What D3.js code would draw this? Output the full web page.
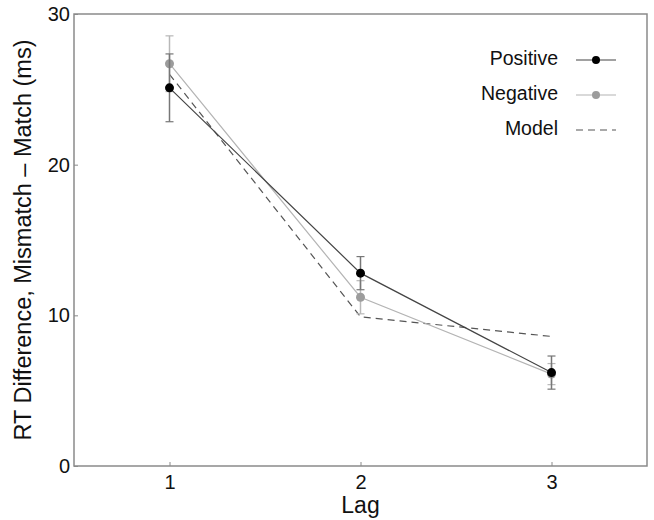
<!DOCTYPE html>
<html><head><meta charset="utf-8">
<script src="https://cdn.jsdelivr.net/npm/d3@7"></script>
<style>body{margin:0;background:#fff}svg{display:block}text{font-family:Arial,"Liberation Sans",sans-serif}</style>
</head><body><svg id="c" width="654" height="520"></svg>
<script>
const lags = [1, 2, 3];
const positive = [25.1, 12.8, 6.2];
const positiveErr = [2.25, 1.1, 1.1];
const negative = [26.7, 11.2, 6.1];
const negativeErr = [1.85, 1.1, 0.7];
const model = [26.0, 9.9, 8.6];
const yTicks = [0, 10, 20, 30];
const xTicks = [1, 2, 3];

const svg = d3.select("#c");
const L = 74, R = 647, T = 14, B = 466;
const x = d3.scaleLinear().domain([0.5, 3.5]).range([L, R]);
const y = d3.scaleLinear().domain([0, 30]).range([B, T]);
const axisCol = "#8a8a8a";

// frame
svg.append("rect").attr("x", L).attr("y", T).attr("width", R - L).attr("height", B - T)
  .attr("fill", "none").attr("stroke", axisCol).attr("stroke-width", 1.5);

const xa = svg.append("g").attr("transform", `translate(0,${B})`)
  .call(d3.axisBottom(x).tickValues(xTicks).tickSizeInner(-4).tickSizeOuter(0).tickPadding(9).tickFormat(d3.format("d")));
const ya = svg.append("g").attr("transform", `translate(${L},0)`)
  .call(d3.axisLeft(y).tickValues(yTicks).tickSizeInner(-4).tickSizeOuter(0).tickPadding(4));
[xa, ya].forEach(a => {
  a.select(".domain").remove();
  a.selectAll(".tick line").attr("stroke", axisCol).attr("stroke-width", 1);
  a.selectAll("text").attr("font-size", 20).attr("fill", "#111").attr("font-family", "Arial, 'Liberation Sans', sans-serif");
});

svg.append("text").attr("x", x(2)).attr("y", 513).attr("text-anchor", "middle")
  .attr("font-size", 23).attr("fill", "#111").text("Lag");
svg.append("text").attr("transform", `translate(25,${(T + B) / 2}) rotate(-90)`)
  .attr("text-anchor", "middle").attr("dominant-baseline", "middle")
  .attr("font-size", 23.5).attr("fill", "#111").text("RT Difference, Mismatch \u2013 Match (ms)");

const line = d3.line().x((d, i) => x(lags[i])).y(d => y(d));

// model
svg.append("path").datum(model).attr("d", line).attr("fill", "none")
  .attr("stroke", "#555").attr("stroke-width", 1.2).attr("stroke-dasharray", "7,5");

function series(vals, errs, lineCol, errCol, dotCol) {
  const g = svg.append("g");
  g.append("path").datum(vals).attr("d", line).attr("fill", "none")
    .attr("stroke", lineCol).attr("stroke-width", 1.2);
  vals.forEach((v, i) => {
    const cx = x(lags[i]);
    g.append("line").attr("x1", cx).attr("x2", cx).attr("y1", y(v - errs[i])).attr("y2", y(v + errs[i]))
      .attr("stroke", errCol).attr("stroke-width", 1.5);
    [v - errs[i], v + errs[i]].forEach(e => g.append("line").attr("x1", cx - 4).attr("x2", cx + 4)
      .attr("y1", y(e)).attr("y2", y(e)).attr("stroke", errCol).attr("stroke-width", 1.2));
    g.append("circle").attr("cx", cx).attr("cy", y(v)).attr("r", 4.5).attr("fill", dotCol);
  });
}
series(negative, negativeErr, "#b4b4b4", "#b8b8b8", "#9c9c9c");
series(positive, positiveErr, "#444", "#777", "#000");

// legend
const leg = [
  {name: "Positive", col: "#444", dot: "#000", dash: null, y: 60},
  {name: "Negative", col: "#b4b4b4", dot: "#9c9c9c", dash: null, y: 95},
  {name: "Model", col: "#555", dot: null, dash: "7,5", y: 130}
];
leg.forEach(d => {
  svg.append("text").attr("x", 558).attr("y", d.y).attr("text-anchor", "end")
    .attr("dominant-baseline", "middle").attr("font-size", 19.5).attr("fill", "#111").text(d.name);
  svg.append("line").attr("x1", 576).attr("x2", 616).attr("y1", d.y).attr("y2", d.y)
    .attr("stroke", d.col).attr("stroke-width", 1.2).attr("stroke-dasharray", d.dash);
  if (d.dot) svg.append("circle").attr("cx", 596).attr("cy", d.y).attr("r", 4).attr("fill", d.dot);
});
</script></body></html>
